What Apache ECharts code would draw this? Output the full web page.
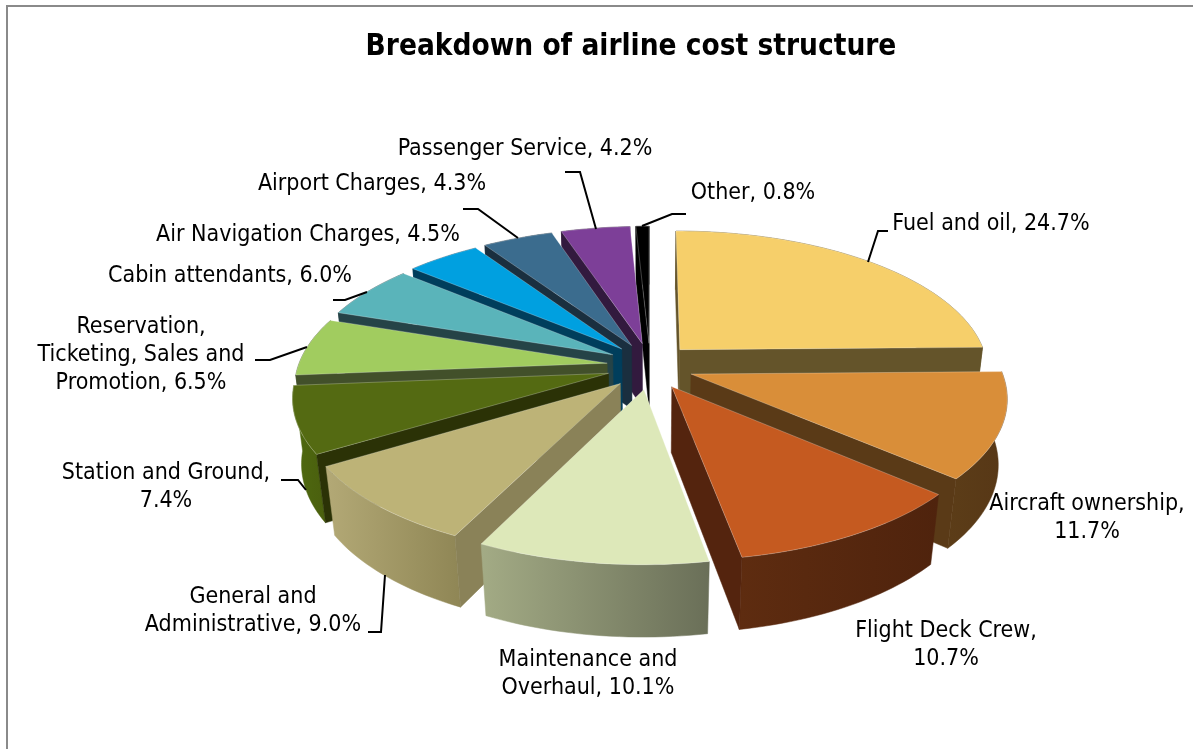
<!DOCTYPE html>
<html>
<head>
<meta charset="utf-8">
<style>html,body{margin:0;padding:0;background:#fff}#c{width:1193px;height:749px}</style>
<script src="https://cdn.jsdelivr.net/npm/echarts@6/dist/echarts.min.js"></script>
</head>
<body>
<div id="c"></div>
<script>
// Airline cost shares, clockwise from twelve o'clock (percent)
const categories = ['Fuel and oil', 'Aircraft ownership', 'Flight Deck Crew', 'Maintenance and Overhaul',
  'General and Administrative', 'Station and Ground', 'Reservation, Ticketing, Sales and Promotion',
  'Cabin attendants', 'Air Navigation Charges', 'Airport Charges', 'Passenger Service', 'Other'];
const shares = [24.7, 11.7, 10.7, 10.1, 9.0, 7.4, 6.5, 6.0, 4.5, 4.3, 4.2, 0.8];
const labelBreaks = ['Fuel and oil, {v}%', 'Aircraft ownership,\n{v}%', 'Flight Deck Crew,\n{v}%',
  'Maintenance and\nOverhaul, {v}%', 'General and\nAdministrative, {v}%', 'Station and Ground,\n{v}%',
  'Reservation,\nTicketing, Sales and\nPromotion, {v}%', 'Cabin attendants, {v}%',
  'Air Navigation Charges, {v}%', 'Airport Charges, {v}%', 'Passenger Service, {v}%', 'Other, {v}%'];

// Face colours per slice: top, radial wall, rim gradient (left, right)
const topColors = ['#f6cf6a', '#d98e39', '#c55a20', '#dde8b9', '#bdb377', '#546a12', '#a1cc5f', '#5ab4ba', '#00a0e0', '#3b6c8e', '#7d3f98', '#000000'];
const wallColors = ['#64542a', '#5a3a17', '#54240e', '#6c7059', '#8a8258', '#2b3206', '#42502a', '#254347', '#003e5c', '#1a2f3f', '#321a3e', '#000000'];
const rimLeft = ['#64542a', '#5c3d18', '#5e2c10', '#a3ab85', '#b3a976', '#4f6a10', '#42502a', '#254347', '#003e5c', '#1a2f3f', '#321a3e', '#000000'];
const rimRight = ['#64542a', '#573716', '#4f230d', '#6a6f58', '#8f8655', '#4a5f0e', '#42502a', '#254347', '#003e5c', '#1a2f3f', '#321a3e', '#000000'];

// Perspective pie geometry
const CX = 650, CY = 366, RX = 309, RY = 141, DEPTH = 66.5;
const PERSP_X = 0.15, PERSP_Y = 0.15, PINCH = 0.025, EXPLODE_X = 0.14, EXPLODE_Z = 0.165;

function project(x, z, h) {
  const wx = 1 - PERSP_X * z + PINCH * h, wy = 1 - PERSP_Y * z + PINCH * h;
  return [CX + RX * x / wx, CY + (RY * z + DEPTH * h) / wy];
}
function signedArea(p) {
  let a = 0;
  p.forEach((q, i) => { const n = p[(i + 1) % p.length]; a += q[0] * n[1] - n[0] * q[1]; });
  return a / 2;
}

const total = shares.reduce((a, b) => a + b, 0);
const spans = [];
shares.reduce((acc, v) => { spans.push([acc / total * 2 * Math.PI, (acc + v) / total * 2 * Math.PI]); return acc + v; }, 0);

function sliceShape(i) {
  const [a0, a1] = spans[i], mid = (a0 + a1) / 2;
  const ox = EXPLODE_X * Math.sin(mid), oz = -EXPLODE_Z * Math.cos(mid);
  const steps = Math.max(4, Math.ceil((a1 - a0) * 40));
  const rim = h => Array.from({ length: steps + 1 }, (_, k) => {
    const t = a0 + (a1 - a0) * k / steps;
    return project(ox + Math.sin(t), oz - Math.cos(t), h);
  });
  return { apexT: project(ox, oz, 0), apexB: project(ox, oz, 1), rimT: rim(0), rimB: rim(1) };
}

function renderSlice(params, api) {
  const i = api.value(1);
  const s = sliceShape(i);
  const children = [];
  const rimFill = new echarts.graphic.LinearGradient(0, 0, 1, 0, [
    { offset: 0, color: rimLeft[i] }, { offset: 1, color: rimRight[i] }]);
  children.push({ type: 'polygon', shape: { points: s.rimT.concat(s.rimB.slice().reverse()) },
    style: { fill: rimFill, stroke: rimFill, lineWidth: 0.5 } });
  // Radial faces: only the one turned towards the viewer is painted
  const first = [s.apexT, s.rimT[0], s.rimB[0], s.apexB];
  const last = [s.rimT[s.rimT.length - 1], s.apexT, s.apexB, s.rimB[s.rimB.length - 1]];
  [first, last].forEach(q => {
    if (signedArea(q) < 0) {
      children.push({ type: 'polygon', shape: { points: q }, style: { fill: wallColors[i], stroke: wallColors[i], lineWidth: 0.5 } });
    }
  });
  children.push({ type: 'polygon', shape: { points: [s.apexT].concat(s.rimT) },
    style: { fill: topColors[i], stroke: 'rgba(255,255,255,0.25)', lineWidth: 1 } });
  return { type: 'group', children };
}

// Painter's order: farthest slice first
const drawOrder = shares.map((v, i) => i).sort((a, b) =>
  -Math.cos((spans[a][0] + spans[a][1]) / 2) + Math.cos((spans[b][0] + spans[b][1]) / 2));

// Label anchors (centre x, centre y of the first line) and leader lines
const labelAnchors = [[991, 224], [1087, 504], [946, 631], [588, 660], [253, 597], [166, 473], [141, 327], [230, 276], [308, 235], [372, 184], [525, 149], [753, 193]];
const leaders = [
  [[868, 262], [878, 231], [888, 231]], null, null, null,
  [[385, 575], [381, 632], [368, 632]],
  [[306, 490], [298, 480], [281, 480]],
  [[307, 347], [270, 360], [255, 360]],
  [[367, 292], [345, 300], [333, 300]],
  null,
  [[518, 238], [478, 209], [463, 209]],
  [[596, 229], [580, 172], [565, 172]],
  [[642, 226], [672, 214], [686, 214]]
];
const FONT = '"DejaVu Sans Condensed", "DejaVu Sans", sans-serif';

const graphics = [
  { type: 'rect', silent: true, shape: { x: 6, y: 5, width: 1187, height: 2 }, style: { fill: '#8a8a8a' } },
  { type: 'rect', silent: true, shape: { x: 6, y: 5, width: 2, height: 744 }, style: { fill: '#8a8a8a' } }
];
labelBreaks.forEach((tpl, i) => {
  graphics.push({ type: 'text', silent: true, z: 10, x: labelAnchors[i][0], y: labelAnchors[i][1] - 14,
    style: { text: tpl.replace('{v}', shares[i].toFixed(1)), fill: '#000', font: '23px ' + FONT,
      align: 'center', verticalAlign: 'top', lineHeight: 28 } });
  if (leaders[i]) {
    graphics.push({ type: 'polyline', silent: true, z: 9, shape: { points: leaders[i] },
      style: { stroke: '#000', lineWidth: 2, fill: null } });
  }
});

const chart = echarts.init(document.getElementById('c'), null, { renderer: 'canvas' });
chart.setOption({
  animation: false,
  backgroundColor: '#fff',
  title: { text: 'Breakdown of airline cost structure', left: 626, top: 27, textAlign: 'center',
    textStyle: { fontFamily: FONT, fontSize: 29.5, fontWeight: 'bold', color: '#000' } },
  series: [{
    type: 'custom', coordinateSystem: 'none', silent: true,
    renderItem: renderSlice,
    data: drawOrder.map(i => ({ name: categories[i], value: [shares[i], i] }))
  }],
  graphic: graphics
});
</script>
</body>
</html>
